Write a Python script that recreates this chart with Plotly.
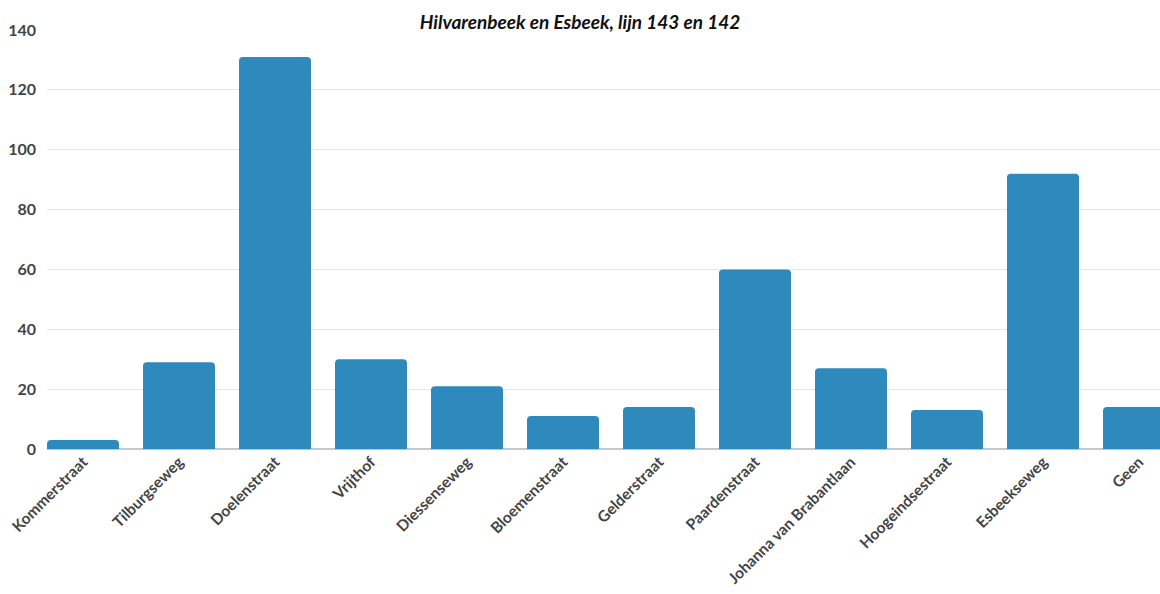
import plotly.graph_objects as go

categories = ["Kommerstraat", "Tilburgseweg", "Doelenstraat", "Vrijthof", "Diessenseweg",
              "Bloemenstraat", "Gelderstraat", "Paardenstraat", "Johanna van Brabantlaan",
              "Hoogeindsestraat", "Esbeekseweg", "Geen"]
values = [3, 29, 131, 30, 21, 11, 14, 60, 27, 13, 92, 14]
y_ticks = [0, 20, 40, 60, 80, 100, 120, 140]
title_text = "Hilvarenbeek en Esbeek, lijn 143 en 142"

fig = go.Figure(go.Bar(
    x=categories, y=values,
    marker=dict(color="#2e89bd", cornerradius=4, line=dict(width=0)),
))

fig.update_layout(
    width=1160, height=594,
    margin=dict(l=47, r=0, t=30, b=144.5),
    paper_bgcolor="white", plot_bgcolor="white",
    bargap=0.25,
    showlegend=False,
    font=dict(family="Lato", color="#444"),
    title=dict(text=title_text, x=0.5, xanchor="center", y=0.963, yanchor="middle",
               font=dict(family="Lato", size=19, color="#111", style="italic", weight="bold")),
)
fig.update_xaxes(
    range=[-0.375, 11.219], tickangle=-45, showgrid=False, automargin=False,
    tickfont=dict(family="Lato", size=15.5, color="#444", weight="bold"),
    ticks="", showline=False,
)
fig.update_yaxes(
    range=[0, 140], tickvals=y_ticks, showgrid=True, gridcolor="#e6e6e6", gridwidth=1,
    zeroline=True, zerolinecolor="#c8c8c8", zerolinewidth=1.5, automargin=False,
    tickfont=dict(family="Lato", size=16, color="#444", weight="bold"),
    ticks="", ticklabelstandoff=10,
)

fig.write_html("out.html", config={"displayModeBar": False},
               post_script="document.body.style.margin='0';document.body.style.overflow='hidden';")
